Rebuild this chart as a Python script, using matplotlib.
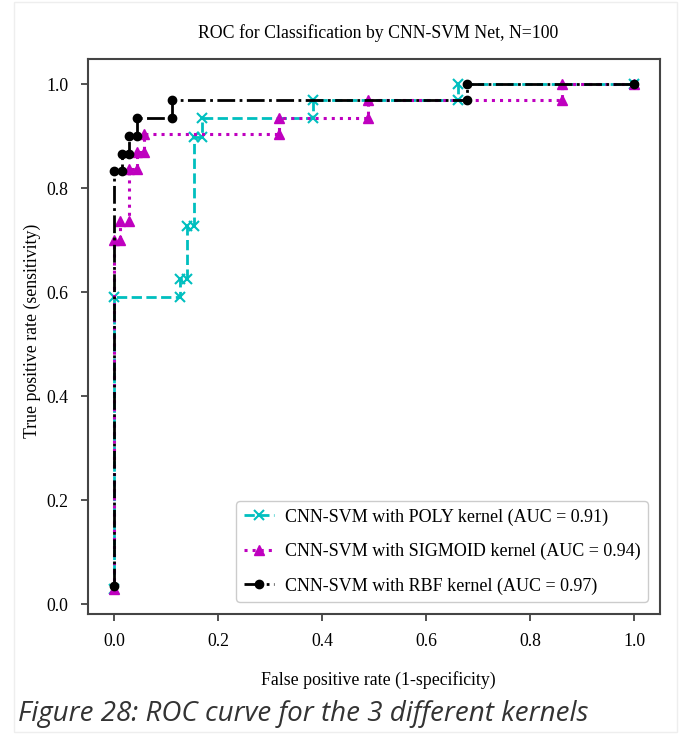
import matplotlib.pyplot as plt
from matplotlib.patches import Rectangle

# ROC points (step curves, one point per threshold)
poly_fpr = [0.0, 0.0, 0.126, 0.126, 0.14, 0.14, 0.153, 0.153, 0.169, 0.169, 0.382, 0.382, 0.662, 0.662, 1.0]
poly_tpr = [0.03, 0.59, 0.59, 0.625, 0.625, 0.728, 0.728, 0.898, 0.898, 0.936, 0.936, 0.969, 0.969, 1.0, 1.0]

sig_fpr = [0.0, 0.0, 0.012, 0.012, 0.028, 0.028, 0.044, 0.044, 0.057, 0.057, 0.317, 0.317, 0.488, 0.488, 0.861, 0.861, 1.0]
sig_tpr = [0.03, 0.70, 0.70, 0.737, 0.737, 0.837, 0.837, 0.869, 0.869, 0.904, 0.904, 0.936, 0.936, 0.969, 0.969, 1.0, 1.0]

rbf_fpr = [0.0, 0.0, 0.015, 0.015, 0.028, 0.028, 0.044, 0.044, 0.111, 0.111, 0.678, 0.678, 1.0]
rbf_tpr = [0.035, 0.834, 0.834, 0.866, 0.866, 0.90, 0.90, 0.936, 0.936, 0.969, 0.969, 1.0, 1.0]

labels = ['CNN-SVM with POLY kernel (AUC = 0.91)',
          'CNN-SVM with SIGMOID kernel (AUC = 0.94)',
          'CNN-SVM with RBF kernel (AUC = 0.97)']
xticks = [0.0, 0.2, 0.4, 0.6, 0.8, 1.0]
yticks = [0.0, 0.2, 0.4, 0.6, 0.8, 1.0]

plt.rcParams['font.family'] = ['Liberation Serif', 'DejaVu Serif']
plt.rcParams['font.size'] = 12.8

fig = plt.figure(figsize=(6.92, 7.34), dpi=100)
ax = fig.add_axes([88/692, 1-614/734, 572/692, 555/734])

ax.plot(poly_fpr, poly_tpr, color='#00bfbf', ls='--', lw=2, marker='x', ms=6.5, mew=1.5, label=labels[0])
ax.plot(sig_fpr, sig_tpr, color='#bf00bf', ls=':', lw=2.2, marker='^', ms=7, label=labels[1])
ax.plot(rbf_fpr, rbf_tpr, color='black', ls='-.', lw=2, marker='o', ms=6, label=labels[2])

ax.set_xticks(xticks)
ax.set_yticks(yticks)
ax.tick_params(direction='out', length=5, width=1.2, pad=9, color='#333333')
for s in ax.spines.values():
    s.set_linewidth(1.5)
    s.set_color('#444444')

ax.set_xlabel('False positive rate (1-specificity)')
ax.xaxis.set_label_coords(0.507, -0.103)
ax.set_ylabel('True positive rate (sensitivity)')
ax.yaxis.set_label_coords(-0.083, 0.51)

fig.text(378/692, 1-33/734, 'ROC for Classification by CNN-SVM Net, N=100',
         ha='center', va='center')

ax.legend(loc='lower right', bbox_to_anchor=(0.979, 0.0216), borderaxespad=0,
          labelspacing=0.95, handlelength=1.7, handletextpad=0.6,
          edgecolor='#cccccc', framealpha=1, fontsize=13)

# caption under the plot and the thin page border
fig.text(18/692, 1-714/734, 'Figure 28: ROC curve for the 3 different kernels',
         ha='left', va='center', fontsize=20, style='italic', color='#333333',
         family=['Open Sans', 'DejaVu Sans'])
fig.patches.append(Rectangle((14/692, 2/734), (677-14)/692, (732-2)/734,
                             transform=fig.transFigure, fill=False,
                             edgecolor='#eeeeee', lw=1))

fig.savefig('out.png', dpi=100)
